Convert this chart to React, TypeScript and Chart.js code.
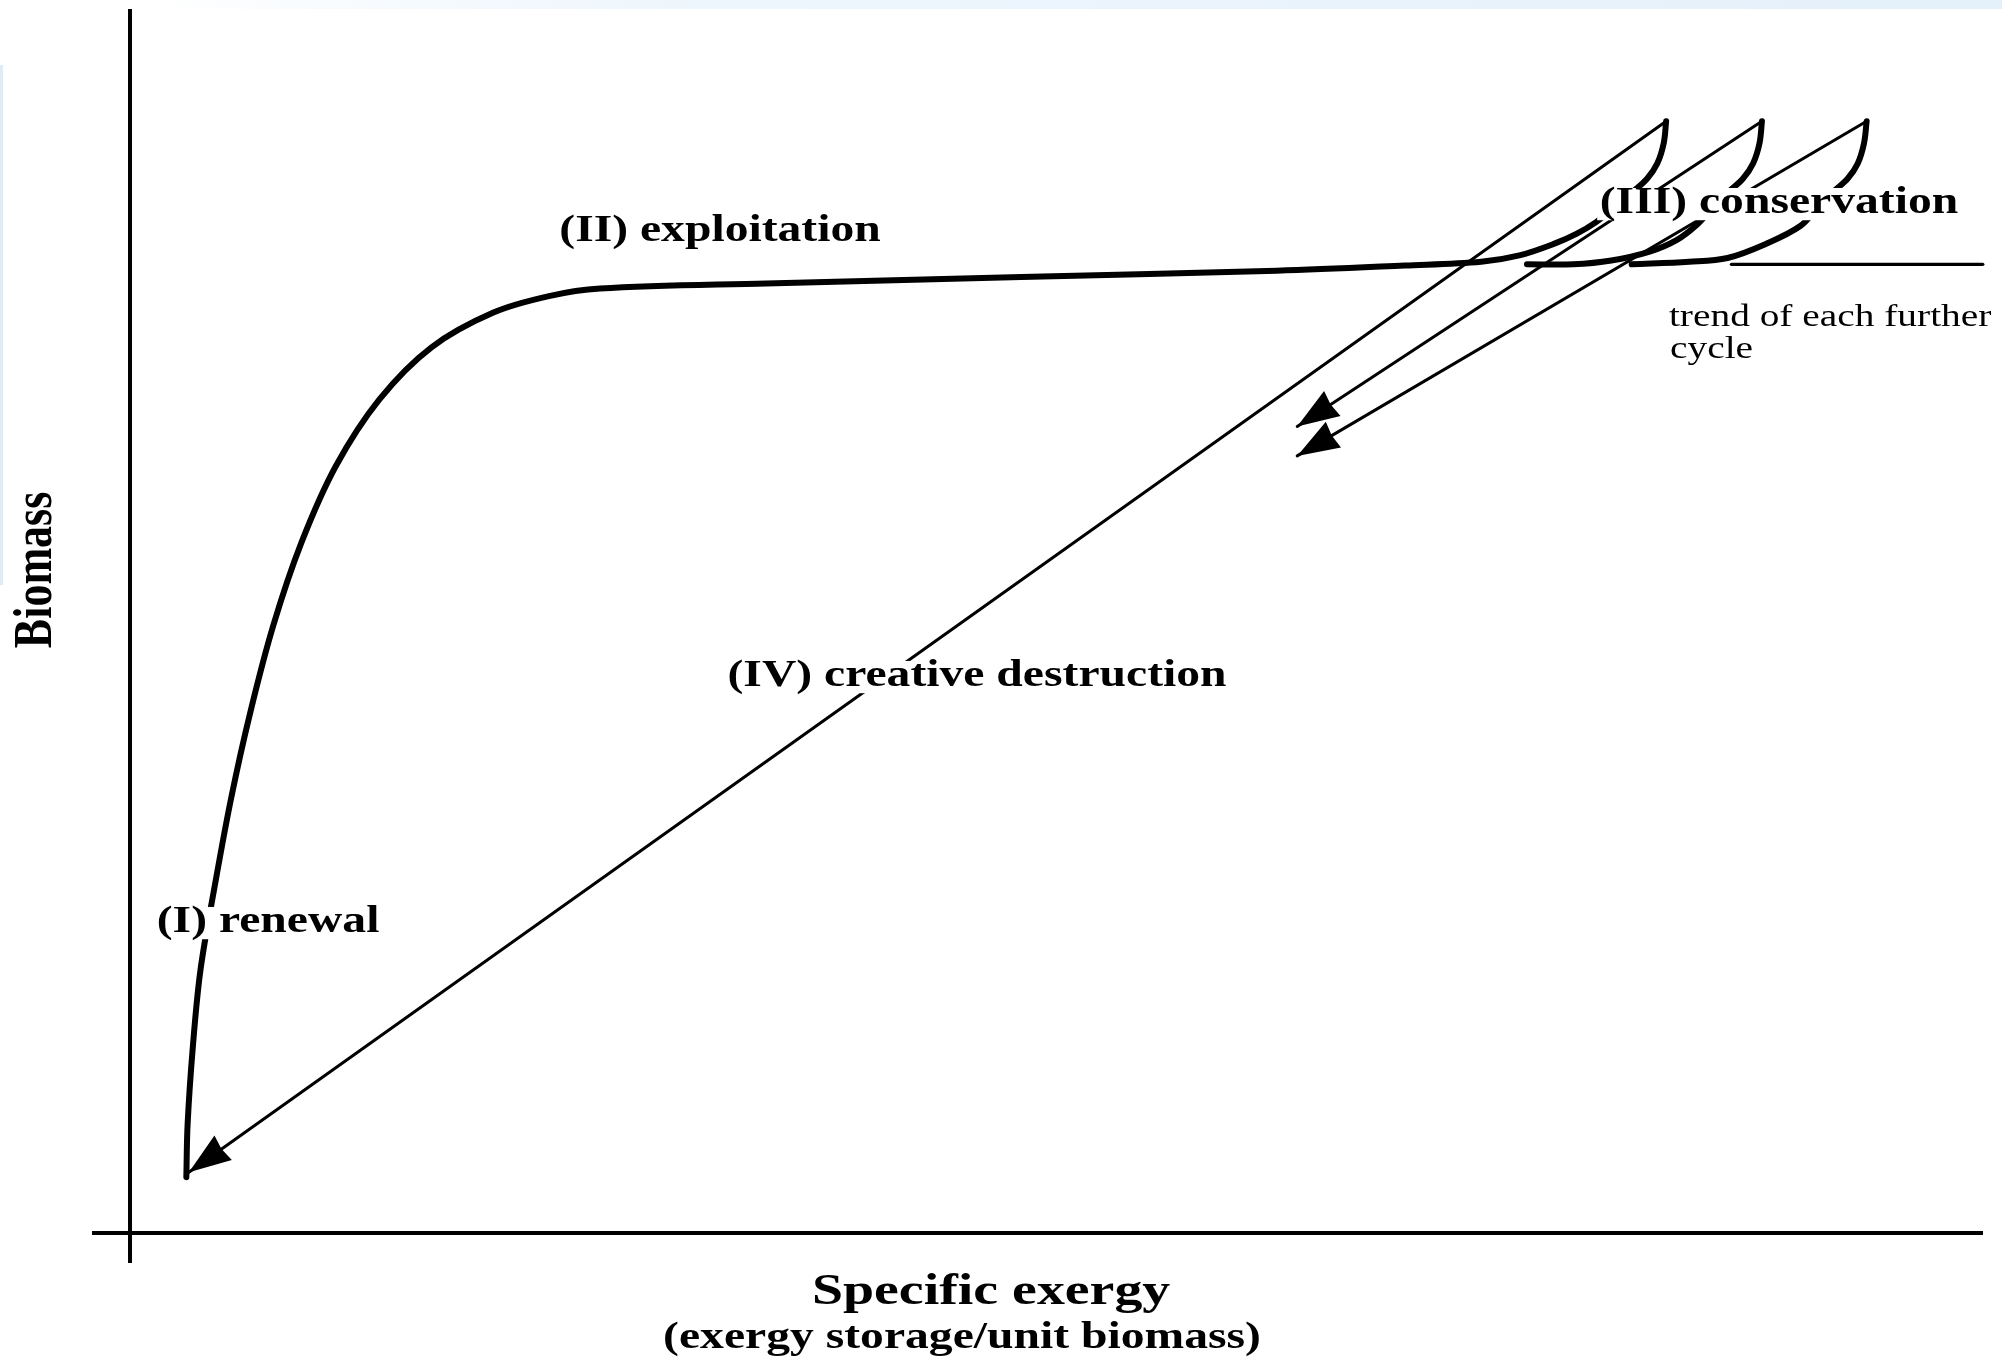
import React, { useEffect, useRef } from "react";
import { Chart, registerables } from "chart.js";

Chart.register(...registerables);

type P = { x: number; y: number };

// Schematic units: x = specific exergy (0–100), y = biomass (0–100)
// Cycle 1: renewal (I) -> exploitation (II) -> conservation (III) peak
const cycle1Curve: P[] = [
  { x: 3.04, y: 4.56 }, { x: 3.11, y: 8.93 }, { x: 3.39, y: 15.19 }, { x: 3.8, y: 21.46 },
  { x: 4.56, y: 28.24 }, { x: 5.46, y: 35.54 }, { x: 6.49, y: 42.53 }, { x: 7.73, y: 49.62 },
  { x: 9.25, y: 56.4 }, { x: 11.11, y: 62.66 }, { x: 13.45, y: 68.09 }, { x: 16.27, y: 72.36 },
  { x: 19.58, y: 75.18 }, { x: 22.61, y: 76.54 }, { x: 25.37, y: 77.16 }, { x: 34.33, y: 77.58 },
  { x: 48.11, y: 78.1 }, { x: 61.89, y: 78.62 }, { x: 68.78, y: 79.04 }, { x: 72.92, y: 79.35 },
  { x: 74.98, y: 79.87 }, { x: 76.84, y: 80.81 }, { x: 78.08, y: 81.65 }, { x: 79.12, y: 82.59 },
  { x: 80.15, y: 83.84 }, { x: 81.12, y: 85.09 }, { x: 81.87, y: 86.13 }, { x: 82.42, y: 87.38 },
  { x: 82.77, y: 89.05 }, { x: 82.9, y: 90.83 },
];
// Further cycles (conservation phase only)
const cycle2Curve: P[] = [
  { x: 75.39, y: 79.14 }, { x: 77.88, y: 79.14 }, { x: 79.94, y: 79.45 }, { x: 82.01, y: 80.18 },
  { x: 83.46, y: 81.12 }, { x: 84.56, y: 82.38 }, { x: 85.46, y: 83.84 }, { x: 86.29, y: 85.09 },
  { x: 87.04, y: 86.13 }, { x: 87.59, y: 87.38 }, { x: 87.94, y: 89.05 }, { x: 88.07, y: 90.83 },
];
const cycle3Curve: P[] = [
  { x: 81.04, y: 79.14 }, { x: 84.14, y: 79.35 }, { x: 86.21, y: 79.66 }, { x: 88.28, y: 80.81 },
  { x: 90.14, y: 82.27 }, { x: 91.11, y: 83.84 }, { x: 91.93, y: 85.09 }, { x: 92.69, y: 86.13 },
  { x: 93.24, y: 87.38 }, { x: 93.58, y: 89.05 }, { x: 93.72, y: 90.83 },
];
// Creative destruction (IV) release paths
const release1: P[] = [{ x: 82.9, y: 90.83 }, { x: 3.18, y: 4.97 }];
const release2: P[] = [{ x: 88.07, y: 90.83 }, { x: 62.99, y: 65.89 }];
const release3: P[] = [{ x: 93.72, y: 90.83 }, { x: 62.99, y: 63.49 }];
const trendLine: P[] = [{ x: 86.42, y: 79.14 }, { x: 99.99, y: 79.14 }];
const xAxisLine: P[] = [{ x: -2.05, y: 0 }, { x: 100, y: 0 }];
const yAxisLine: P[] = [{ x: 0, y: -2.45 }, { x: 0, y: 100 }];

const phaseLabels = ["(II) exploitation", "(III) conservation", "(IV) creative destruction", "(I) renewal"];
const phaseLabelX = [31.84, 88.99, 45.71, 7.45];
const phaseLabelY = [82.27, 84.56, 45.92, 25.82];
const noteLines = ["trend of each further", "cycle"];
const noteX = [83.05, 83.11];
const noteY = [75.16, 72.55];
const xTitle = "Specific exergy";
const xSubtitle = "(exergy storage/unit biomass)";
const yTitle = "Biomass";
const titleAnchors = { xTitle: { x: 46.47, y: -4.49 }, xSub: { x: 44.9, y: -8.17 }, yTitle: { x: -5.02, y: 54.17 } };

const SX = 1.27; // horizontal glyph stretch of the reference
const DY = 5; // baseline nudge (px)
const FONT = '"Liberation Serif", "Times New Roman", serif';

function drawText(
  ctx: CanvasRenderingContext2D,
  text: string,
  px: number,
  py: number,
  size: number,
  bold: boolean,
  align: CanvasTextAlign,
  mask: boolean
) {
  ctx.save();
  ctx.font = `${bold ? "bold " : ""}${size}px ${FONT}`;
  const w = ctx.measureText(text).width;
  ctx.translate(px, py + DY);
  ctx.scale(SX, 1);
  ctx.textBaseline = "middle";
  ctx.textAlign = align;
  if (mask) {
    const left = align === "center" ? -w / 2 : 0;
    ctx.fillStyle = "#ffffff";
    ctx.fillRect(left - 2, -size * 0.4, w + 4, size * 0.86);
  }
  ctx.fillStyle = "#000000";
  ctx.fillText(text, 0, 0);
  ctx.restore();
}

const backgroundPlugin = {
  id: "pageBackground",
  beforeDraw(chart: any) {
    const ctx: CanvasRenderingContext2D = chart.ctx;
    const W = chart.width;
    ctx.save();
    ctx.fillStyle = "#ffffff";
    ctx.fillRect(0, 0, W, chart.height);
    const g = ctx.createLinearGradient(150, 0, W, 0);
    g.addColorStop(0, "rgba(232,243,252,0)");
    g.addColorStop(0.3, "#eef6fd");
    g.addColorStop(1, "#e4f0fa");
    ctx.fillStyle = g;
    ctx.fillRect(150, 0, W - 150, 9);
    ctx.fillStyle = "#dcecf9";
    ctx.fillRect(0, 65, 3, 520);
    ctx.restore();
  },
};

const arrowPlugin = {
  id: "arrowHeads",
  afterDatasetsDraw(chart: any) {
    const ctx: CanvasRenderingContext2D = chart.ctx;
    chart.data.datasets.forEach((ds: any, i: number) => {
      if (!ds.arrowHead) return;
      const pts = chart.getDatasetMeta(i).data;
      const a = pts[pts.length - 2];
      const b = pts[pts.length - 1];
      const ang = Math.atan2(b.y - a.y, b.x - a.x);
      ctx.save();
      ctx.translate(b.x, b.y);
      ctx.rotate(ang);
      ctx.beginPath();
      ctx.moveTo(0, 0);
      ctx.lineTo(-42, -15);
      ctx.lineTo(-40, 0);
      ctx.lineTo(-42, 15);
      ctx.closePath();
      ctx.fillStyle = "#000";
      ctx.fill();
      ctx.restore();
    });
  },
};

const textPlugin = {
  id: "diagramText",
  afterDatasetsDraw(chart: any) {
    const ctx: CanvasRenderingContext2D = chart.ctx;
    const xs = chart.scales.x;
    const ys = chart.scales.y;
    phaseLabels.forEach((t, i) => {
      drawText(ctx, t, xs.getPixelForValue(phaseLabelX[i]), ys.getPixelForValue(phaseLabelY[i]), 37.5, true, "center", true);
    });
    noteLines.forEach((t, i) => {
      drawText(ctx, t, xs.getPixelForValue(noteX[i]), ys.getPixelForValue(noteY[i]), 31, false, "left", false);
    });
    drawText(ctx, xTitle, xs.getPixelForValue(titleAnchors.xTitle.x), ys.getPixelForValue(titleAnchors.xTitle.y), 44, true, "center", false);
    drawText(ctx, xSubtitle, xs.getPixelForValue(titleAnchors.xSub.x), ys.getPixelForValue(titleAnchors.xSub.y), 37.5, true, "center", false);
    // rotated y title
    ctx.save();
    ctx.font = `bold 44px ${FONT}`;
    ctx.translate(xs.getPixelForValue(titleAnchors.yTitle.x), ys.getPixelForValue(titleAnchors.yTitle.y));
    ctx.scale(SX, 1);
    ctx.rotate(-Math.PI / 2);
    ctx.textAlign = "center";
    ctx.textBaseline = "middle";
    ctx.fillStyle = "#000";
    ctx.fillText(yTitle, 0, 0);
    ctx.restore();
  },
};

function lineDs(data: P[], width: number, tension: number, extra: any = {}) {
  return {
    data,
    showLine: true,
    borderColor: "#000000",
    backgroundColor: "#000000",
    borderWidth: width,
    tension,
    pointRadius: 0,
    pointHoverRadius: 0,
    fill: false,
    borderCapStyle: "round",
    borderJoinStyle: "round",
    clip: false as any,
    ...extra,
  };
}

export default function App() {
  const ref = useRef<HTMLCanvasElement>(null);
  useEffect(() => {
    document.body.style.margin = "0";
    const canvas = ref.current;
    if (!canvas) return;
    const chart = new Chart(canvas, {
      type: "scatter",
      data: {
        datasets: [
          lineDs(xAxisLine, 4, 0, { borderCapStyle: "butt" }),
          lineDs(yAxisLine, 4, 0, { borderCapStyle: "butt" }),
          lineDs(release1, 3, 0, { arrowHead: true }),
          lineDs(release2, 3, 0, { arrowHead: true }),
          lineDs(release3, 3, 0, { arrowHead: true }),
          lineDs(cycle1Curve, 6, 0.35),
          lineDs(cycle2Curve, 6, 0.35),
          lineDs(cycle3Curve, 6, 0.35),
          lineDs(trendLine, 3.2, 0),
        ] as any,
      },
      options: {
        animation: false,
        responsive: false,
        devicePixelRatio: 1,
        events: [],
        layout: { padding: 0 },
        plugins: { legend: { display: false }, tooltip: { enabled: false }, title: { display: false } },
        scales: {
          x: { type: "linear", min: -7.016, max: 101.025, display: false },
          y: { type: "linear", min: -10.294, max: 100.735, display: false },
        },
      },
      plugins: [backgroundPlugin, arrowPlugin, textPlugin],
    });
    return () => chart.destroy();
  }, []);
  return <canvas ref={ref} width={2002} height={1359} style={{ display: "block", width: 2002, height: 1359 }} />;
}
